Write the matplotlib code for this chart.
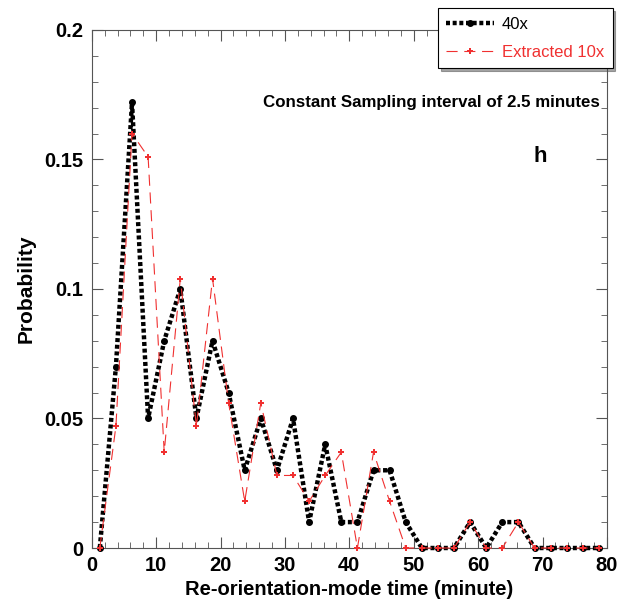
import matplotlib
matplotlib.use("Agg")
import matplotlib.pyplot as plt
from matplotlib.ticker import MultipleLocator, FuncFormatter

plt.rcParams['font.family'] = ['Liberation Sans', 'DejaVu Sans']

# re-orientation-mode time bins (minute), 2.5 minute sampling
times = [1.25, 3.75, 6.25, 8.75, 11.25, 13.75, 16.25, 18.75, 21.25, 23.75,
         26.25, 28.75, 31.25, 33.75, 36.25, 38.75, 41.25, 43.75, 46.25, 48.75,
         51.25, 53.75, 56.25, 58.75, 61.25, 63.75, 66.25, 68.75, 71.25, 73.75,
         76.25, 78.75]

prob_40x = [0.0, 0.07, 0.172, 0.05, 0.08, 0.1, 0.05, 0.08, 0.06, 0.03,
            0.05, 0.03, 0.05, 0.01, 0.04, 0.01, 0.01, 0.03, 0.03, 0.01,
            0.0, 0.0, 0.0, 0.01, 0.0, 0.01, 0.01, 0.0, 0.0, 0.0,
            0.0, 0.0]

prob_10x = [0.0, 0.047, 0.16, 0.151, 0.037, 0.104, 0.047, 0.104, 0.056, 0.018,
            0.056, 0.028, 0.028, 0.018, 0.028, 0.037, 0.0, 0.037, 0.018, 0.0,
            0.0, 0.0, 0.0, 0.01, 0.0, 0.0, 0.01, 0.0, 0.0, 0.0,
            0.0, 0.0]

labels = ["40x", "Extracted 10x"]
red = '#f03030'

fig = plt.figure(figsize=(6.2, 6.06), dpi=100)
ax = fig.add_axes([0.148, 0.0957, 0.831, 0.855])

ax.plot(times, prob_40x, color='black', lw=3.2, dashes=(0.9, 0.6),
        marker='o', ms=4, label=labels[0], clip_on=False, zorder=3)
ax.plot(times, prob_10x, color=red, lw=0.8, dashes=(10, 6),
        marker='P', ms=4, mew=0, label=labels[1], clip_on=False, zorder=4)

ax.set_xlim(0, 80)
ax.set_ylim(0, 0.2)
ax.xaxis.set_major_locator(MultipleLocator(10))
ax.xaxis.set_minor_locator(MultipleLocator(2))
ax.yaxis.set_major_locator(MultipleLocator(0.05))
ax.yaxis.set_minor_locator(MultipleLocator(0.01))
ax.yaxis.set_major_formatter(FuncFormatter(lambda v, p: f"{v:g}"))
ax.tick_params(which='both', direction='in', top=True, right=True, color='#555555')
ax.tick_params(which='major', length=8, labelsize=14.5, pad=6)
ax.tick_params(which='minor', length=4)
for lab in ax.get_xticklabels() + ax.get_yticklabels():
    lab.set_fontweight('bold')
for s in ax.spines.values():
    s.set_color('#555555')

ax.set_xlabel("Re-orientation-mode time (minute)", fontsize=14.5, fontweight='bold', labelpad=3)
ax.set_ylabel("Probability", fontsize=15, fontweight='bold', labelpad=6)

ax.text(0.986, 0.859, "Constant Sampling interval of 2.5 minutes", transform=ax.transAxes,
        ha='right', va='center', fontsize=12.2, fontweight='bold')
ax.text(0.870, 0.755, "h", transform=ax.transAxes, ha='center', va='center',
        fontsize=16, fontweight='bold')

leg = fig.legend(loc='upper right', bbox_to_anchor=(0.988, 0.986), frameon=True,
                 fancybox=False, shadow=True, fontsize=12, handlelength=2.9,
                 handletextpad=0.45, borderpad=0.5, labelspacing=0.8,
                 borderaxespad=0, edgecolor='black')
leg.get_frame().set_linewidth(0.8)
leg.get_texts()[1].set_color(red)

fig.savefig("out.png", dpi=100)
